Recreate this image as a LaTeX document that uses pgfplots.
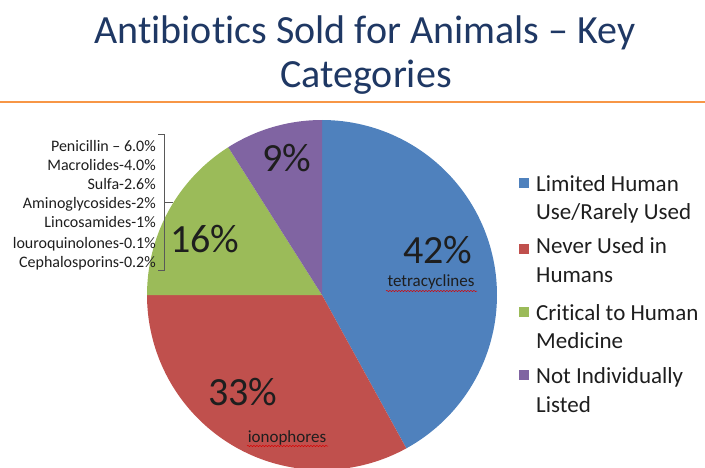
\documentclass[border=0pt]{standalone}
\usepackage{fontspec}
\setmainfont{Carlito}[Ligatures=CommonOff]
\usepackage{pgfplots}
\pgfplotsset{compat=1.18}
\usetikzlibrary{decorations.pathmorphing}
\definecolor{cblue}{HTML}{4F81BD}
\definecolor{cred}{HTML}{C0504D}
\definecolor{cgreen}{HTML}{9BBB59}
\definecolor{cpurple}{HTML}{8064A2}
\definecolor{ctitle}{HTML}{1F3864}
\definecolor{corange}{HTML}{F79646}
\definecolor{ctext}{HTML}{1E1E1E}
\tikzset{
  subl/.style={anchor=base east, text=ctext, font=\fontsize{16}{19}\selectfont, inner sep=0pt},
  legl/.style={anchor=base west, text=ctext, font=\fontsize{23}{28}\selectfont, inner sep=0pt},
  big/.style={anchor=base, text=ctext, font=\fontsize{40}{48}\selectfont, inner sep=0pt},
  small/.style={anchor=base, text=ctext, font=\fontsize{17}{20}\selectfont, inner sep=0pt},
  wavy/.style={red!85!black, line width=0.5pt, decorate, decoration={snake, amplitude=0.6pt, segment length=3pt}},
}
\begin{document}
\begin{tikzpicture}
\useasboundingbox (0,0) rectangle (705pt,468pt);
\begin{axis}[
  width=705pt, height=468pt, scale only axis,
  xmin=0, xmax=705, ymin=0, ymax=468, y dir=reverse,
  hide axis, clip=true,
]
% Pie: 42% blue, 33% red, 16% green, 9% purple; clockwise from top
\addplot[draw=none, fill=cblue, domain=90:-61.2, samples=90, variable=\t]
  ({322+175*cos(\t)}, {295-175*sin(\t)}) -- (axis cs:322,295) -- cycle;   % 42%
\addplot[draw=none, fill=cred, domain=-61.2:-180, samples=80, variable=\t]
  ({322+175*cos(\t)}, {295-175*sin(\t)}) -- (axis cs:322,295) -- cycle;   % 33%
\addplot[draw=none, fill=cgreen, domain=-180:-237.6, samples=50, variable=\t]
  ({322+175*cos(\t)}, {295-175*sin(\t)}) -- (axis cs:322,295) -- cycle;   % 16%
\addplot[draw=none, fill=cpurple, domain=-237.6:-270, samples=30, variable=\t]
  ({322+175*cos(\t)}, {295-175*sin(\t)}) -- (axis cs:322,295) -- cycle;   % 9%

% title
\node[anchor=base, inner sep=0pt, text=ctitle, font=\fontsize{40}{48}\selectfont] at (axis cs:365,44) {Antibiotics Sold for Animals -- Key};
\node[anchor=base, inner sep=0pt, text=ctitle, font=\fontsize{40}{48}\selectfont] at (axis cs:366,88) {Categories};
\draw[corange, line width=2pt] (axis cs:0,102) -- (axis cs:705,102);

% slice labels
\node[big] at (axis cs:438,263) {42\%};
\node[small] at (axis cs:431,287) {tetracyclines};
\draw[wavy] (axis cs:386,291) -- (axis cs:477,291);
\node[big] at (axis cs:243,405) {33\%};
\node[small] at (axis cs:287,442) {ionophores};
\draw[wavy] (axis cs:247,446) -- (axis cs:328,446);
\node[big] at (axis cs:205,253) {16\%};
\node[big] at (axis cs:287,172) {9\%};

% sub-categories
\node[subl] at (axis cs:156,152) {Penicillin -- 6.0\%};
\node[subl] at (axis cs:156,171) {Macrolides-4.0\%};
\node[subl] at (axis cs:156,190) {Sulfa-2.6\%};
\node[subl] at (axis cs:156,209) {Aminoglycosides-2\%};
\node[subl] at (axis cs:156,228) {Lincosamides-1\%};
\node[subl] at (axis cs:156,248) {louroquinolones-0.1\%};
\node[subl] at (axis cs:156,267) {Cephalosporins-0.2\%};
\draw[black!65, line width=0.8pt] (axis cs:158,134) -- (axis cs:164,134) -- (axis cs:164,270) -- (axis cs:158,270);
\draw[black!65, line width=0.8pt] (axis cs:164,202) -- (axis cs:173,202);

% legend
\fill[cblue] (axis cs:519,178) rectangle (axis cs:529,188);
\fill[cred] (axis cs:519,244) rectangle (axis cs:529,254);
\fill[cgreen] (axis cs:519,307) rectangle (axis cs:529,317);
\fill[cpurple] (axis cs:519,370) rectangle (axis cs:529,380);
\node[legl] at (axis cs:536,192) {Limited Human};
\node[legl] at (axis cs:536,220) {Use/Rarely Used};
\node[legl] at (axis cs:536,254) {Never Used in};
\node[legl] at (axis cs:536,283) {Humans};
\node[legl] at (axis cs:536,320) {Critical to Human};
\node[legl] at (axis cs:536,348) {Medicine};
\node[legl] at (axis cs:536,383) {Not Individually};
\node[legl] at (axis cs:536,412) {Listed};
\end{axis}
\end{tikzpicture}
\end{document}
